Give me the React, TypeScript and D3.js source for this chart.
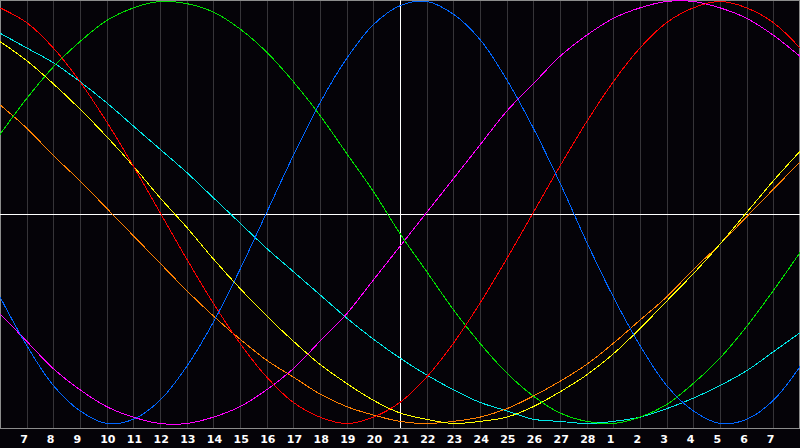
import { useEffect, useRef } from "react";
import * as d3 from "d3";

// labels under the grid lines, Feb 7 .. Mar 7
const dayLabels = [
  7, 8, 9, 10, 11, 12, 13, 14, 15, 16, 17, 18, 19, 20, 21, 22, 23, 24, 25, 26,
  27, 28, 1, 2, 3, 4, 5, 6, 7,
];

// one value per day (-1 .. 1), day 0 is the left edge (Feb 6)
const physical = [
  -0.4, -0.63, -0.82, -0.94, -1.0, -0.98, -0.89, -0.73, -0.52, -0.27, 0, 0.27,
  0.52, 0.73, 0.89, 0.98, 1.0, 0.94, 0.82, 0.63, 0.4, 0.14, -0.14, -0.4, -0.63,
  -0.82, -0.94, -1.0, -0.98, -0.89, -0.73,
];
const emotional = [
  0.97, 0.9, 0.78, 0.62, 0.43, 0.22, 0, -0.22, -0.43, -0.62, -0.78, -0.9, -0.97,
  -1.0, -0.97, -0.9, -0.78, -0.62, -0.43, -0.22, 0, 0.22, 0.43, 0.62, 0.78, 0.9,
  0.97, 1.0, 0.97, 0.9, 0.78,
];
const intellectual = [
  0.37, 0.54, 0.69, 0.81, 0.91, 0.97, 1.0, 0.99, 0.95, 0.87, 0.76, 0.62, 0.46,
  0.28, 0.1, -0.1, -0.28, -0.46, -0.62, -0.76, -0.87, -0.95, -0.99, -1.0, -0.97,
  -0.91, -0.81, -0.69, -0.54, -0.37, -0.19,
];
const intuitive = [
  -0.48, -0.61, -0.74, -0.84, -0.92, -0.97, -1.0, -1.0, -0.97, -0.92, -0.84,
  -0.74, -0.61, -0.48, -0.32, -0.16, 0, 0.16, 0.32, 0.48, 0.61, 0.74, 0.84,
  0.92, 0.97, 1.0, 1.0, 0.97, 0.92, 0.84, 0.74,
];
const aesthetic = [
  0.81, 0.72, 0.61, 0.49, 0.36, 0.22, 0.07, -0.07, -0.22, -0.36, -0.49, -0.61,
  -0.72, -0.81, -0.89, -0.95, -0.98, -1.0, -0.99, -0.97, -0.92, -0.85, -0.77,
  -0.67, -0.55, -0.42, -0.29, -0.15, 0, 0.15, 0.29,
];
const awareness = [
  0.51, 0.4, 0.27, 0.15, 0.02, -0.11, -0.24, -0.37, -0.49, -0.6, -0.7, -0.78,
  -0.86, -0.92, -0.96, -0.99, -1.0, -0.99, -0.97, -0.93, -0.87, -0.8, -0.72,
  -0.62, -0.51, -0.4, -0.27, -0.15, -0.02, 0.11, 0.24,
];
const spiritual = [
  0.85, 0.78, 0.71, 0.62, 0.52, 0.41, 0.3, 0.19, 0.07, -0.05, -0.17, -0.28,
  -0.39, -0.5, -0.6, -0.69, -0.77, -0.84, -0.9, -0.94, -0.98, -0.99, -1.0,
  -0.99, -0.97, -0.93, -0.88, -0.82, -0.75, -0.66, -0.57,
];

const todayIndex = 15;

export default function App() {
  const svgRef = useRef<SVGSVGElement>(null);

  useEffect(() => {
    if (!svgRef.current) return;
    const svg = d3.select(svgRef.current);
    svg.selectAll("*").remove();

    const width = 800;
    const height = 448;
    const plotBottom = 428;

    const series = [
      { values: spiritual, color: "#00e8e8" },
      { values: awareness, color: "#ff8000" },
      { values: aesthetic, color: "#ffff00" },
      { values: intuitive, color: "#ff00ff" },
      { values: intellectual, color: "#00e000" },
      { values: emotional, color: "#ff0000" },
      { values: physical, color: "#0066ff" },
    ];

    const x = d3.scaleLinear().domain([0, 30]).range([0, width]);
    const y = d3.scaleLinear().domain([-1, 1]).range([423.5, 1.5]);

    // background
    svg
      .append("rect")
      .attr("width", width)
      .attr("height", height)
      .attr("fill", "#050308");

    // day grid
    svg
      .append("g")
      .selectAll("line")
      .data(dayLabels)
      .join("line")
      .attr("x1", (_, i) => Math.round(x(i + 1)) + 0.5)
      .attr("x2", (_, i) => Math.round(x(i + 1)) + 0.5)
      .attr("y1", 0)
      .attr("y2", plotBottom)
      .attr("stroke", "#363438")
      .attr("shape-rendering", "crispEdges");

    // frame
    svg
      .append("path")
      .attr("d", `M0.5,${plotBottom + 0.5}V0.5H799.5V${plotBottom + 0.5}`)
      .attr("fill", "none")
      .attr("stroke", "#8c8c8c")
      .attr("shape-rendering", "crispEdges");
    svg
      .append("line")
      .attr("x1", 0)
      .attr("x2", width)
      .attr("y1", plotBottom + 0.5)
      .attr("y2", plotBottom + 0.5)
      .attr("stroke", "#8c8c8c")
      .attr("shape-rendering", "crispEdges");

    // today cross
    svg
      .append("line")
      .attr("x1", 0)
      .attr("x2", width)
      .attr("y1", 214.5)
      .attr("y2", 214.5)
      .attr("stroke", "#ffffff")
      .attr("shape-rendering", "crispEdges");
    svg
      .append("line")
      .attr("x1", x(todayIndex) + 0.5)
      .attr("x2", x(todayIndex) + 0.5)
      .attr("y1", 0)
      .attr("y2", plotBottom)
      .attr("stroke", "#ffffff")
      .attr("shape-rendering", "crispEdges");

    const line = d3
      .line<number>()
      .x((_, i) => x(i))
      .y((d) => y(d))
      .curve(d3.curveCatmullRom.alpha(0.5));

    svg
      .append("g")
      .selectAll("path")
      .data(series)
      .join("path")
      .attr("d", (s) => line(s.values))
      .attr("fill", "none")
      .attr("stroke", (s) => s.color)
      .attr("stroke-width", 1)
      .attr("shape-rendering", "crispEdges");

    // day labels
    svg
      .append("g")
      .selectAll("text")
      .data(dayLabels)
      .join("text")
      .attr("x", (_, i) => x(i + 1) - 6.5)
      .attr("y", 443)
      .attr("fill", "#ffffff")
      .style("font-family", "'DejaVu Sans', sans-serif")
      .style("font-weight", "bold")
      .style("font-size", "11px")
      .text((d) => d);
  }, []);

  return (
    <svg
      ref={svgRef}
      width={800}
      height={448}
      style={{ position: "absolute", left: 0, top: 0, display: "block" }}
    ></svg>
  );
}
